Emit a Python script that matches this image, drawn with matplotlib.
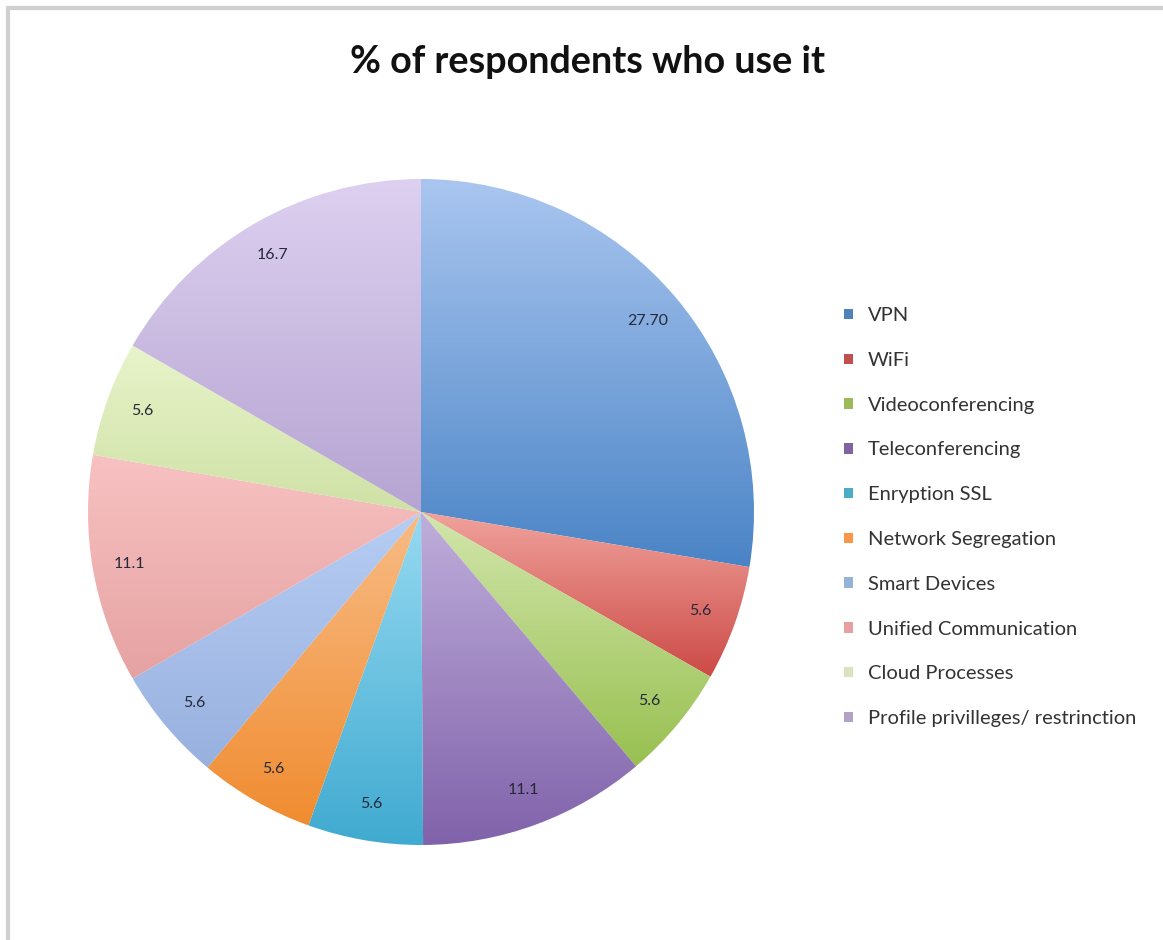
import matplotlib
matplotlib.use("Agg")
import matplotlib.pyplot as plt
from matplotlib.patches import Patch, Rectangle
from matplotlib import colors
import numpy as np

# data
categories = ["VPN", "WiFi", "Videoconferencing", "Teleconferencing", "Enryption SSL",
              "Network Segregation", "Smart Devices", "Unified Communication",
              "Cloud Processes", "Profile privilleges/ restrinction"]
values = [27.7, 5.6, 5.6, 11.1, 5.6, 5.6, 5.6, 11.1, 5.6, 16.7]
value_labels = ["27.70", "5.6", "5.6", "11.1", "5.6", "5.6", "5.6", "11.1", "5.6", "16.7"]

# gradient fills (top -> bottom) and legend swatch colours
top_colors = ["#aac6f0", "#f0a29c", "#d2e6ac", "#bfaedb", "#96daf2",
              "#f8bc86", "#b6cdf4", "#f8c2c2", "#e8f4ca", "#ddd0f0"]
bottom_colors = ["#4a84c6", "#cc4a46", "#98c050", "#8062aa", "#40aad0",
                 "#f08c30", "#98b0de", "#e6a2a2", "#cfe1a6", "#b6a4d2"]
legend_colors = ["#4f81bd", "#c0504d", "#9bbb59", "#8064a2", "#4bacc6",
                 "#f79646", "#95b3d7", "#e6a0a0", "#d7e4bd", "#b3a2c7"]

plt.rcParams["font.family"] = ["Lato", "DejaVu Sans"]

W, H = 1163, 940
fig = plt.figure(figsize=(W / 100, H / 100), dpi=100)
fig.patch.set_facecolor("white")

# thin grey frame at top / left like the screenshot
fig.patches.append(Rectangle((8 / W, -0.1), 1.2, 1 - 8 / H + 0.1, transform=fig.transFigure,
                             fill=False, edgecolor="#cfcfcf", linewidth=3, zorder=0))

cx, cy, r = 421, 512, 333
ax = fig.add_axes([(cx - r) / W, (H - cy - r) / H, 2 * r / W, 2 * r / H])

wedges, texts = ax.pie(values, labels=value_labels, startangle=90, counterclock=False,
                       radius=1, labeldistance=0.89,
                       textprops=dict(fontsize=11.5, color="#26293a"))

for w, t, c1, c2 in zip(wedges, texts, top_colors, bottom_colors):
    w.set_facecolor("none")
    w.set_edgecolor("none")
    verts = w.get_path().vertices
    x0, x1 = verts[:, 0].min(), verts[:, 0].max()
    y0, y1 = verts[:, 1].min(), verts[:, 1].max()
    a = np.array(colors.to_rgba(c1))
    b = np.array(colors.to_rgba(c2))
    s = np.linspace(0, 1, 256)[:, None]
    grad = (a * (1 - s) + b * s)[:, None, :]
    im = ax.imshow(grad, extent=[x0, x1, y0, y1], origin="upper", aspect="auto",
                   interpolation="bilinear", zorder=1)
    im.set_clip_path(w)
    t.set_horizontalalignment("center")
    t.set_verticalalignment("center")
    t.set_zorder(3)

ax.set_xlim(-1, 1)
ax.set_ylim(-1, 1)
ax.set_aspect("equal")
ax.axis("off")

fig.text(588 / W, 1 - 62 / H, "% of respondents who use it", ha="center", va="center",
         fontsize=27.2, fontweight="bold", color="#111111")

handles = [Patch(facecolor=c, edgecolor="none") for c in legend_colors]
fig.legend(handles, categories, loc="upper left", bbox_to_anchor=(826 / W, 1 - 289 / H),
           frameon=False, fontsize=14.5, handlelength=0.42, handleheight=0.42,
           handletextpad=0.75, labelspacing=1.38, labelcolor="#333333")

fig.savefig("out.png", dpi=100)
